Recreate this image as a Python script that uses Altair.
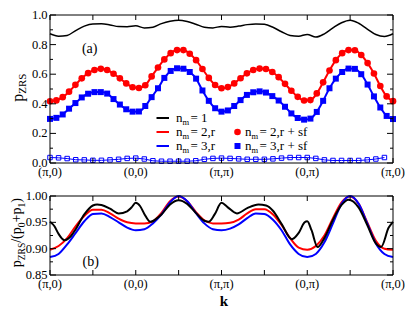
import altair as alt
import pandas as pd

SERIF = "'Liberation Serif', Tinos, 'Times New Roman', Times, 'DejaVu Serif', serif"

# ---------------- data ----------------
x_tick_labels = ["(π,0)", "(0,0)", "(π,π)", "(0,π)", "(π,0)"]
x_major = [0, 1, 2, 3, 4]
x_ticks = [0, 0.5, 1, 1.5, 2, 2.5, 3, 3.5, 4]
ya_major = [0.0, 0.2, 0.4, 0.6, 0.8, 1.0]
ya_minor = [0.1, 0.3, 0.5, 0.7, 0.9]
yb_major = [0.85, 0.90, 0.95, 1.00]
yb_minor = [0.875, 0.925, 0.975]

k_fine = [i / 10 for i in range(41)]
k_mark = [round(i * 4 / 54, 4) for i in range(55)]
k_open = [i / 10 for i in range(40)]

top_black = [0.873, 0.857, 0.862, 0.895, 0.925, 0.940, 0.941, 0.933, 0.922, 0.921,
             0.927, 0.913, 0.918, 0.942, 0.958, 0.965, 0.956, 0.938, 0.918, 0.913,
             0.923, 0.918, 0.925, 0.935, 0.940, 0.937, 0.917, 0.887, 0.862, 0.857,
             0.869, 0.851, 0.873, 0.913, 0.948, 0.965, 0.944, 0.905, 0.868, 0.855, 0.873]

top_red = [0.417, 0.423, 0.445, 0.482, 0.528, 0.572, 0.607, 0.628, 0.636, 0.628,
           0.603, 0.572, 0.538, 0.512, 0.507, 0.525, 0.585, 0.645, 0.700, 0.742,
           0.763, 0.763, 0.738, 0.695, 0.635, 0.575, 0.527, 0.505, 0.513, 0.538,
           0.573, 0.606, 0.628, 0.638, 0.635, 0.615, 0.580, 0.535, 0.488, 0.447,
           0.422, 0.425, 0.470, 0.545, 0.625, 0.695, 0.742, 0.763, 0.762, 0.730,
           0.675, 0.605, 0.520, 0.450, 0.418]

top_blue = [0.298, 0.305, 0.328, 0.367, 0.405, 0.443, 0.468, 0.479, 0.479, 0.469,
            0.432, 0.395, 0.363, 0.347, 0.348, 0.385, 0.445, 0.505, 0.575, 0.622,
            0.640, 0.637, 0.615, 0.570, 0.490, 0.420, 0.370, 0.347, 0.355, 0.385,
            0.425, 0.460, 0.478, 0.484, 0.476, 0.452, 0.422, 0.380, 0.335, 0.304,
            0.293, 0.300, 0.345, 0.420, 0.505, 0.570, 0.615, 0.638, 0.636, 0.600,
            0.530, 0.450, 0.375, 0.318, 0.297]

top_open = [0.037, 0.035, 0.030, 0.022, 0.021, 0.018, 0.018, 0.021, 0.025, 0.031,
            0.033, 0.027, 0.015, 0.012, 0.012, 0.012, 0.012, 0.015, 0.025, 0.031,
            0.033, 0.031, 0.028, 0.025, 0.025, 0.025, 0.028, 0.033, 0.037, 0.037,
            0.037, 0.031, 0.021, 0.017, 0.017, 0.017, 0.017, 0.021, 0.027, 0.037]

bot_red = [0.898, 0.905, 0.920, 0.943, 0.962, 0.974, 0.974, 0.967, 0.957, 0.950,
           0.948, 0.948, 0.952, 0.968, 0.990, 0.999, 0.990, 0.970, 0.954, 0.948,
           0.948, 0.949, 0.955, 0.967, 0.975, 0.975, 0.965, 0.945, 0.920, 0.902,
           0.898, 0.905, 0.925, 0.958, 0.988, 0.999, 0.985, 0.950, 0.915, 0.900, 0.898]

bot_blue = [0.884, 0.890, 0.908, 0.930, 0.952, 0.966, 0.967, 0.960, 0.950, 0.940,
            0.935, 0.937, 0.948, 0.965, 0.988, 1.000, 0.990, 0.968, 0.948, 0.937,
            0.935, 0.938, 0.946, 0.958, 0.967, 0.966, 0.955, 0.935, 0.908, 0.890,
            0.884, 0.890, 0.912, 0.948, 0.985, 1.000, 0.985, 0.948, 0.910, 0.890, 0.884]

bot_black_k = [0.0, 0.05, 0.1, 0.17, 0.25, 0.3, 0.4, 0.5, 0.55, 0.6, 0.7, 0.8, 0.9, 0.95,
               1.0, 1.05, 1.1, 1.17, 1.25, 1.3, 1.4, 1.5, 1.6, 1.7, 1.8, 1.85, 1.92,
               2.0, 2.07, 2.18, 2.3, 2.43, 2.52, 2.6, 2.7, 2.82, 2.9, 2.97, 3.0, 3.05,
               3.12, 3.2, 3.3, 3.4, 3.48, 3.6, 3.7, 3.8, 3.86, 3.95, 4.0]
bot_black = [0.951, 0.943, 0.928, 0.916, 0.925, 0.937, 0.965, 0.982, 0.984, 0.983,
             0.976, 0.967, 0.971, 0.978, 0.987, 0.981, 0.966, 0.951, 0.958, 0.965,
             0.984, 0.992, 0.985, 0.968, 0.953, 0.951, 0.965, 0.987, 0.979, 0.967,
             0.977, 0.984, 0.982, 0.972, 0.947, 0.918, 0.930, 0.950, 0.952, 0.935,
             0.903, 0.920, 0.955, 0.983, 0.993, 0.978, 0.945, 0.910, 0.903, 0.940, 0.951]

# ---------------- layout constants ----------------
W, H1, GAP, H2 = 343, 148, 33, 79
Y2 = H1 + GAP            # top of lower panel
HT = Y2 + H2             # total plot height
RED, BLUE = "#ff0000", "#0000ff"
LBL = 12.5               # tick-label font size

xs = alt.Scale(domain=[0, 4], nice=False, zero=False)
ysa = alt.Scale(domain=[0, 1], range=[H1, 0], nice=False, zero=False)
ysb = alt.Scale(domain=[0.85, 1.0], range=[HT, Y2], nice=False, zero=False)

one = pd.DataFrame({"d": [0]})


def txt(s, x, y, size=13, **kw):
    opts = dict(align="left", baseline="middle")
    opts.update(kw)
    return alt.Chart(one).mark_text(text=s, fontSize=size, font=SERIF, color="black",
                                    **opts).encode(x=alt.value(x), y=alt.value(y))


def frame_layers(yscale, y0p, y1p, ymaj, ymin, fmt, xpad):
    """Box, inward ticks on all four sides and tick labels drawn through the scales."""
    xt = pd.DataFrame({"t": x_ticks})
    yM = pd.DataFrame({"t": ymaj})
    ym = pd.DataFrame({"t": ymin})
    out = [alt.Chart(one).mark_rect(fillOpacity=0, stroke="black", strokeWidth=1).encode(
        x=alt.value(0), x2=alt.value(W), y=alt.value(y0p), y2=alt.value(y1p))]
    for a, b in ((y1p, y1p - 5), (y0p, y0p + 5)):
        out.append(alt.Chart(xt).mark_rule(color="black", strokeWidth=1).encode(
            x=alt.X("t:Q", scale=xs, axis=None), y=alt.value(a), y2=alt.value(b)))
    for df, ln in ((yM, 6), (ym, 3)):
        for a, b in ((0, ln), (W, W - ln)):
            out.append(alt.Chart(df).mark_rule(color="black", strokeWidth=1).encode(
                y=alt.Y("t:Q", scale=yscale, axis=None), x=alt.value(a), x2=alt.value(b)))
    xl = pd.DataFrame({"t": x_major, "lab": x_tick_labels})
    out.append(alt.Chart(xl).mark_text(font=SERIF, fontSize=LBL, color="black",
                                       baseline="top", align="center").encode(
        x=alt.X("t:Q", scale=xs, axis=None), y=alt.value(y1p + xpad), text="lab:N"))
    yl = pd.DataFrame({"t": ymaj, "lab": [format(v, fmt) for v in ymaj]})
    out.append(alt.Chart(yl).mark_text(font=SERIF, fontSize=LBL, color="black",
                                       baseline="middle", align="right").encode(
        y=alt.Y("t:Q", scale=yscale, axis=None), x=alt.value(-2.5), text="lab:N"))
    return out


xa = alt.X("k:Q", scale=xs, axis=None)

# ---------------- upper panel ----------------
df_tb = pd.DataFrame({"k": k_fine, "v": top_black})
df_tr = pd.DataFrame({"k": k_mark, "v": top_red})
df_tl = pd.DataFrame({"k": k_mark, "v": top_blue})
df_to = pd.DataFrame({"k": k_open, "v": top_open})
ya = alt.Y("v:Q", scale=ysa, axis=None)

layers = [
    alt.Chart(df_tb).mark_line(color="black", strokeWidth=1.5, interpolate="monotone").encode(x=xa, y=ya),
    alt.Chart(df_to).mark_line(color=BLUE, strokeWidth=1).encode(x=xa, y=ya),
    alt.Chart(df_to).mark_point(shape="square", filled=False, size=20, color=BLUE,
                                strokeWidth=1, opacity=1).encode(x=xa, y=ya),
    alt.Chart(df_tr).mark_line(color=RED, strokeWidth=2, interpolate="monotone").encode(x=xa, y=ya),
    alt.Chart(df_tl).mark_line(color=BLUE, strokeWidth=2, interpolate="monotone").encode(x=xa, y=ya),
    alt.Chart(df_tr).mark_point(shape="circle", filled=True, size=44, color=RED,
                                opacity=1).encode(x=xa, y=ya),
    alt.Chart(df_tl).mark_point(shape="square", filled=True, size=36, color=BLUE,
                                opacity=1).encode(x=xa, y=ya),
]
layers += frame_layers(ysa, 0, H1, ya_major, ya_minor, ".1f", 3)

# legend
rows = [103, 117, 131]
for color, ry, rest in (("black", rows[0], "= 1"), (RED, rows[1], "= 2,r"), (BLUE, rows[2], "= 3,r")):
    layers.append(alt.Chart(one).mark_rule(color=color, strokeWidth=2).encode(
        x=alt.value(106.5), x2=alt.value(119), y=alt.value(ry)))
    layers += [txt("n", 126, ry), txt("m", 132.5, ry + 3.5, size=8.5), txt(rest, 140.5, ry)]
layers.append(alt.Chart(one).mark_point(shape="circle", filled=True, size=44, color=RED,
                                        opacity=1).encode(x=alt.value(187.5), y=alt.value(rows[1])))
layers.append(alt.Chart(one).mark_point(shape="square", filled=True, size=36, color=BLUE,
                                        opacity=1).encode(x=alt.value(187.5), y=alt.value(rows[2])))
for ry, rest in ((rows[1], "= 2,r + sf"), (rows[2], "= 3,r + sf")):
    layers += [txt("n", 195, ry), txt("m", 201.5, ry + 3.5, size=8.5), txt(rest, 209.5, ry)]

layers.append(txt("(a)", 39.7, 34, size=14, align="center"))
# y title  p_ZRS
layers.append(txt("p", -27.5, 86.7, size=16, angle=270, baseline="alphabetic"))
layers.append(txt("ZRS", -24, 78.7, size=11, angle=270, baseline="alphabetic"))

# ---------------- lower panel ----------------
df_br = pd.DataFrame({"k": k_fine, "v": bot_red})
df_bl = pd.DataFrame({"k": k_fine, "v": bot_blue})
df_bb = pd.DataFrame({"k": bot_black_k, "v": bot_black})
yb = alt.Y("v:Q", scale=ysb, axis=None)

layers += [
    alt.Chart(df_br).mark_line(color=RED, strokeWidth=2, interpolate="monotone").encode(x=xa, y=yb),
    alt.Chart(df_bl).mark_line(color=BLUE, strokeWidth=2, interpolate="monotone").encode(x=xa, y=yb),
    alt.Chart(df_bb).mark_line(color="black", strokeWidth=2, interpolate="monotone").encode(x=xa, y=yb),
]
layers += frame_layers(ysb, Y2, HT, yb_major, yb_minor, ".2f", 3)
layers.append(txt("(b)", 40.7, Y2 + 66, size=14, align="center"))
layers.append(alt.Chart(one).mark_text(text="k", fontSize=15, font=SERIF, fontWeight="bold",
                                       color="black", align="center", baseline="middle").encode(
    x=alt.value(174), y=alt.value(HT + 26)))
# y title  p_ZRS/(p_0+p_1)
for s, size, xx, yy in (("p", 14, -29, 252.2), ("ZRS", 9.5, -25.5, 245.2), ("/(", 14, -29, 227.8),
                        ("p", 14, -29, 219.25), ("0", 9.5, -25.5, 212.25), ("+", 14, -29, 207.5),
                        ("p", 14, -29, 199.6), ("1", 9.5, -25.5, 192.6), (")", 14, -29, 187.85)):
    layers.append(txt(s, xx, yy, size=size, angle=270, baseline="alphabetic"))

chart = alt.layer(*layers).resolve_scale(y="independent").properties(
    width=W, height=HT,
    autosize=alt.AutoSizeParams(type="none"),
    padding={"left": 42, "top": 7, "right": 14, "bottom": 34},
).configure_view(strokeOpacity=0)

chart.save("out.html", embed_options={"renderer": "svg", "actions": False})
